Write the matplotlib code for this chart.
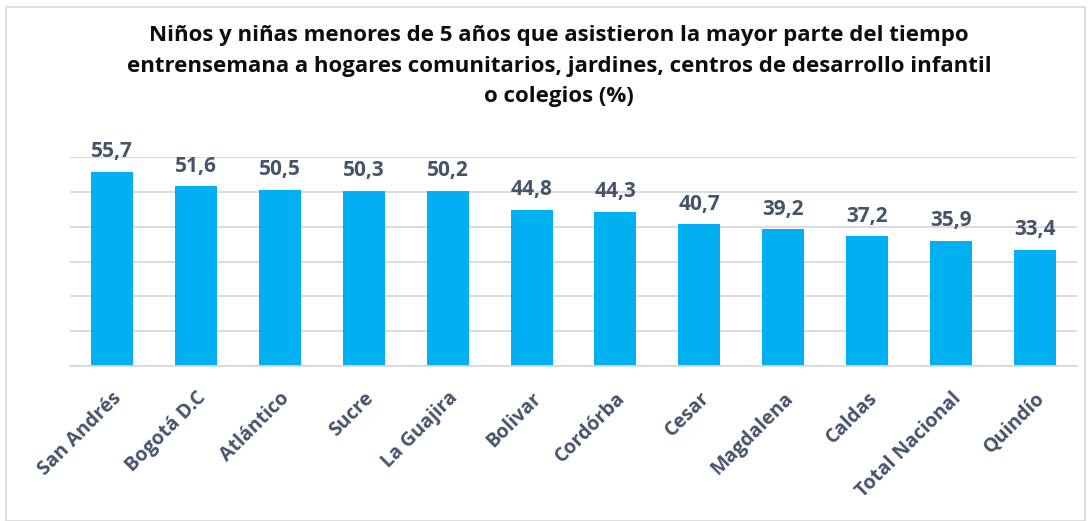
import matplotlib.pyplot as plt
from matplotlib.patches import Rectangle

categorias = ["San Andrés", "Bogotá D.C", "Atlántico", "Sucre", "La Guajira", "Bolivar",
              "Cordórba", "Cesar", "Magdalena", "Caldas", "Total Nacional", "Quindío"]
valores = [55.7, 51.6, 50.5, 50.3, 50.2, 44.8, 44.3, 40.7, 39.2, 37.2, 35.9, 33.4]
etiquetas = ["55,7", "51,6", "50,5", "50,3", "50,2", "44,8", "44,3", "40,7", "39,2", "37,2", "35,9", "33,4"]

azul = "#00B0F0"
gris_texto = "#44546A"
gris_linea = "#D9D9D9"

plt.rcParams['font.family'] = ['Open Sans', 'DejaVu Sans']

fig = plt.figure(figsize=(10.91, 5.21), dpi=100)
ax = fig.add_axes([70 / 1091, 1 - 366 / 521, 1007 / 1091, 209 / 521])

x = range(len(categorias))
ax.bar(x, valores, width=0.5, color=azul, zorder=2)

for i, v in enumerate(valores):
    ax.annotate(etiquetas[i], (i, v), xytext=(0, 7), textcoords='offset points',
                ha='center', va='bottom', fontsize=15, fontweight='bold', color=gris_texto)

ax.set_xlim(-0.5, len(categorias) - 0.5)
ax.set_ylim(0, 60)
ax.set_yticks(range(0, 61, 10))
ax.set_yticklabels([])
ax.tick_params(axis='y', length=0)
ax.tick_params(axis='x', length=0, pad=16)
ax.set_xticks(list(x))
ax.set_xticklabels(categorias, rotation=45, ha='right', va='top', rotation_mode='anchor',
                   fontsize=14, fontweight='bold', color=gris_texto)
ax.grid(axis='y', color=gris_linea, linewidth=1.3, zorder=0)
for s in ['top', 'right', 'left']:
    ax.spines[s].set_visible(False)
ax.spines['bottom'].set_color(gris_linea)
ax.spines['bottom'].set_linewidth(1.3)

fig.text(559 / 1091, 1 - 25 / 521,
         "Niños y niñas menores de 5 años que asistieron la mayor parte del tiempo\n"
         "entrensemana a hogares comunitarios, jardines, centros de desarrollo infantil\n"
         "o colegios (%)",
         ha='center', va='top', fontsize=16, fontweight='bold', color='#0D0D0D',
         linespacing=1.6)

fig.patches.append(Rectangle((6 / 1091, 0.0), 1 - 12 / 1091, 1 - 7 / 521,
                             transform=fig.transFigure, fill=False,
                             edgecolor='#D9D9D9', linewidth=1.2))

fig.savefig('out.png', dpi=100)
